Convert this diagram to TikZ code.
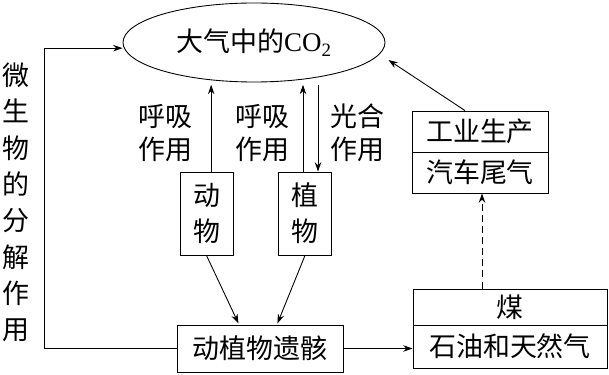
\documentclass[tikz,border=0pt]{standalone}
\usepackage{fontspec}
\setmainfont{Noto Sans CJK SC}
\newfontfamily\latinfont{Liberation Serif}
\usetikzlibrary{shapes.geometric, arrows.meta}

\begin{document}
\begin{tikzpicture}[x=0.03cm, y=-0.03cm, line width=0.75pt,
    >={Stealth[length=8pt, width=5.5pt]},
    font=\fontsize{23}{28}\selectfont,
    box/.style={draw, inner sep=0pt, align=center},
    tallbox/.style={box, minimum width=1.59cm, minimum height=2.49cm, font=\fontsize{23}{31}\selectfont}]
    \useasboundingbox (0,0) rectangle (609,375);

    \node[draw, ellipse, minimum width=7.86cm, minimum height=2.37cm] at (254,42.5) (co2) {大气中的{\latinfont CO\textsubscript{2}}};

    \node[tallbox] at (206.5,213.5) (animal) {动\\物};
    \node[tallbox] at (305,213.5) (plant) {植\\物};
    \node[box, minimum width=4.98cm, minimum height=1.41cm] at (260,348.5) (remains) {动植物遗骸};

    \node[box, minimum width=5.82cm, minimum height=1.08cm] at (510,307) (coal) {煤};
    \node[box, minimum width=5.82cm, minimum height=1.29cm] at (510,346.5) (oil) {石油和天然气};
    \node[box, minimum width=4.08cm, minimum height=1.23cm] at (480,131.5) (industry) {工业生产};
    \node[box, minimum width=4.08cm, minimum height=1.23cm] at (480,172.5) (car) {汽车尾气};

    \node[align=center] at (165,133) (resp1) {呼吸\\作用};
    \node[align=center] at (262,133) (resp2) {呼吸\\作用};
    \node[align=center] at (357,133) (photo) {光合\\作用};
    \node[align=center, font=\fontsize{23}{31}\selectfont] at (16,202.5) (decomp) {微\\生\\物\\的\\分\\解\\作\\用};

    \draw[->, shorten >=2pt] ([xshift=0.14cm]animal.north) -- ([xshift=0.14cm]animal.north |- co2.south);
    \draw[->, shorten >=2pt] ([xshift=-0.06cm]plant.north) -- ([xshift=-0.06cm]plant.north |- co2.south);
    \draw[->, shorten <=2pt] ([xshift=0.39cm]plant.north |- co2.south) -- ([xshift=0.39cm]plant.north);

    \draw[->, shorten >=1pt] (animal.south) -- ([xshift=-0.63cm]remains.north);
    \draw[->, shorten >=1pt] (plant.south) -- ([xshift=0.51cm]remains.north);
    \draw[->] (remains.east) -- (remains.east -| oil.west);

    \draw[->, dashed, dash pattern=on 6pt off 3.5pt] ([xshift=-0.84cm]coal.north) -- ([xshift=-0.84cm]coal.north |- car.south);
    \draw[->] ([xshift=-0.45cm]industry.north) -- ([shift={(3,17.5)}]co2.east);

    \draw[->] (remains.west) -- ++(-132,0) |- ([yshift=-0.17cm]co2.west);
\end{tikzpicture}
\end{document}
